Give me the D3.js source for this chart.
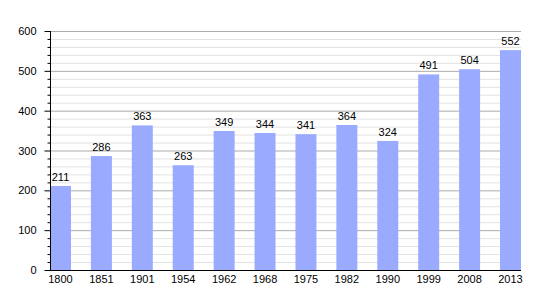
<!DOCTYPE html>
<html>
<head>
<meta charset="utf-8">
<script src="https://cdn.jsdelivr.net/npm/d3@7"></script>
<style>
  body { margin: 0; background: #fff; }
  text { font-family: "Liberation Sans", Arial, sans-serif; }
</style>
</head>
<body>
<script>
// chart data
const years = ["1800", "1851", "1901", "1954", "1962", "1968", "1975", "1982", "1990", "1999", "2008", "2013"];
const population = [211, 286, 363, 263, 349, 344, 341, 364, 324, 491, 504, 552];
const yTicks = [0, 100, 200, 300, 400, 500, 600];

const w = 550, h = 300;
const padL = 50, padR = 521, padT = 31, padB = 270;

const svg = d3.select("body").append("svg")
  .attr("width", w)
  .attr("height", h);

const x = d3.scaleBand()
  .domain(years)
  .range([padL, padR])
  .paddingInner(0.487)
  .paddingOuter(0);

const y = d3.scaleLinear()
  .domain([0, 600])
  .range([padB, padT]);

// minor grid every 20
svg.append("g")
  .selectAll("line")
  .data(d3.range(20, 600, 20).filter(v => v % 100 != 0))
  .enter().append("line")
  .attr("x1", padL).attr("x2", padR)
  .attr("y1", d => y(d) + 0.5).attr("y2", d => y(d) + 0.5)
  .attr("stroke", "#e2e2e2");

// major grid
svg.append("g")
  .selectAll("line")
  .data(yTicks.slice(1))
  .enter().append("line")
  .attr("x1", padL).attr("x2", padR)
  .attr("y1", d => y(d) + 0.5).attr("y2", d => y(d) + 0.5)
  .attr("stroke", "#ababab");

// bars
svg.selectAll("rect.bar")
  .data(population)
  .enter().append("rect")
  .attr("class", "bar")
  .attr("x", (d, i) => x(years[i]))
  .attr("y", d => y(d))
  .attr("width", x.bandwidth())
  .attr("height", d => padB - y(d))
  .attr("fill", "#99aaff");

// value labels
svg.selectAll("text.val")
  .data(population)
  .enter().append("text")
  .attr("class", "val")
  .attr("x", (d, i) => x(years[i]) + x.bandwidth() / 2)
  .attr("y", d => y(d) - 5)
  .attr("text-anchor", "middle")
  .attr("font-size", "11px")
  .attr("fill", "#000")
  .text(d => d);

// y axis with minor ticks
const yAxis = svg.append("g").attr("transform", "translate(" + (padL + 0.5) + ",0)");
yAxis.selectAll("line.minor")
  .data(d3.range(0, 601, 20).filter(v => v % 100 != 0))
  .enter().append("line")
  .attr("class", "minor")
  .attr("x1", -3).attr("x2", 0)
  .attr("y1", d => y(d) + 0.5).attr("y2", d => y(d) + 0.5)
  .attr("stroke", "#000");
yAxis.selectAll("line.major")
  .data(yTicks)
  .enter().append("line")
  .attr("class", "major")
  .attr("x1", -6).attr("x2", 0)
  .attr("y1", d => y(d) + 0.5).attr("y2", d => y(d) + 0.5)
  .attr("stroke", "#000");
yAxis.append("line")
  .attr("x1", 0).attr("x2", 0)
  .attr("y1", padT).attr("y2", padB + 1)
  .attr("stroke", "#000");
yAxis.selectAll("text")
  .data(yTicks)
  .enter().append("text")
  .attr("x", -14)
  .attr("y", d => y(d) + 4)
  .attr("text-anchor", "end")
  .attr("font-size", "11px")
  .text(d => d);

// x axis
svg.append("line")
  .attr("x1", padL).attr("x2", padR)
  .attr("y1", padB + 0.5).attr("y2", padB + 0.5)
  .attr("stroke", "#000");
svg.selectAll("text.year")
  .data(years)
  .enter().append("text")
  .attr("class", "year")
  .attr("x", d => x(d) + x.bandwidth() / 2)
  .attr("y", padB + 13)
  .attr("text-anchor", "middle")
  .attr("font-size", "11px")
  .text(d => d);
</script>
</body>
</html>
